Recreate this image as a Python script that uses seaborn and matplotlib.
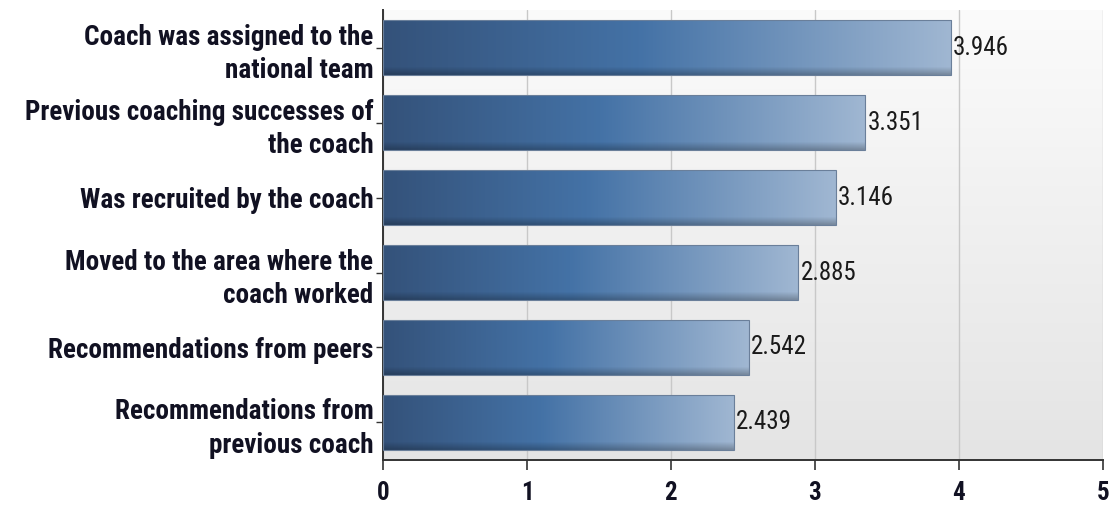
import numpy as np
import pandas as pd
import matplotlib
matplotlib.use("Agg")
import matplotlib.pyplot as plt
from matplotlib.colors import LinearSegmentedColormap
import seaborn as sns

categories = [
    "Coach was assigned to the\nnational team",
    "Previous coaching successes of\nthe coach",
    "Was recruited by the coach",
    "Moved to the area where the\ncoach worked",
    "Recommendations from peers",
    "Recommendations from\nprevious coach",
]
values = [3.946, 3.351, 3.146, 2.885, 2.542, 2.439]
x_ticks = [0, 1, 2, 3, 4, 5]

sns.set_theme(style="white")
plt.rcParams["font.family"] = ["Roboto Condensed", "PT Sans Narrow", "DejaVu Sans"]

df = pd.DataFrame({"category": categories, "value": values})

fig = plt.figure(figsize=(11.15, 5.09), dpi=100)
ax = fig.add_axes([0.3435, 0.0963, 0.6455, 0.8840])

sns.barplot(data=df, x="value", y="category", orient="h", width=0.74,
            color="#4470a5", ax=ax, zorder=3)

ax.set_xlim(0, 5)
ax.set_ylim(len(categories) - 0.5, -0.5)

# background: soft vertical gradient
bg = np.linspace(0, 1, 256).reshape(-1, 1)
bg_cmap = LinearSegmentedColormap.from_list("bg", ["#fbfbfb", "#e4e4e4"])
ax.imshow(bg, cmap=bg_cmap, aspect="auto", extent=(0, 5, len(categories) - 0.5, -0.5),
          zorder=0, interpolation="bicubic")

ax.grid(axis="x", color="#c8c8c8", linewidth=1.0, zorder=1)
ax.set_axisbelow(True)

# horizontal gradient fill for each bar, with a darker lower rim
bar_cmap = LinearSegmentedColormap.from_list(
    "bar", [(0.0, "#34527a"), (0.45, "#4472a6"), (1.0, "#a0b7d2")])
grad = np.linspace(0, 1, 256).reshape(1, -1)
shade_cmap = LinearSegmentedColormap.from_list(
    "shade", [(0, (0, 0, 0, 0.0)), (0.86, (0, 0, 0, 0.0)), (1.0, (0, 0, 0, 0.25))])
for patch, v in zip(ax.patches, values):
    x0, y0 = patch.get_x(), patch.get_y()
    w, h = patch.get_width(), patch.get_height()
    patch.set_facecolor("none")
    patch.set_edgecolor("#6a7f9a")
    patch.set_linewidth(0.8)
    im = ax.imshow(grad, cmap=bar_cmap, aspect="auto",
                   extent=(x0, x0 + w, y0 + h, y0), zorder=2, interpolation="bicubic")
    im.set_clip_path(patch)
    vshade = np.linspace(0, 1, 64).reshape(-1, 1)
    sh = ax.imshow(vshade, cmap=shade_cmap, aspect="auto",
                   extent=(x0, x0 + w, y0 + h, y0), zorder=2.5, interpolation="bicubic")
    sh.set_clip_path(patch)
    ax.text(x0 + w + 0.015, y0 + h / 2, f"{v:.3f}", va="center", ha="left",
            fontsize=18, color="#1a1a1a", zorder=4)

ax.set_xticks(x_ticks)
ax.set_xticklabels([str(t) for t in x_ticks], fontsize=18, fontweight="bold", color="#111122")
ax.set_yticks(range(len(categories)))
ax.set_yticklabels(categories, fontsize=19.5, fontweight="bold", color="#111122",
                   ha="right", linespacing=1.3)
ax.set_xlabel("")
ax.set_ylabel("")

for side in ("top", "right"):
    ax.spines[side].set_visible(False)
for side in ("left", "bottom"):
    ax.spines[side].set_visible(True)
    ax.spines[side].set_color("#333333")
    ax.spines[side].set_linewidth(1.4)

ax.tick_params(axis="x", which="major", direction="out", length=7, width=1.2,
               color="#333333", pad=8, bottom=True)
ax.tick_params(axis="y", which="major", direction="out", length=5, width=1.0,
               color="#333333", pad=2, left=True)

fig.savefig("out.png", dpi=100)
